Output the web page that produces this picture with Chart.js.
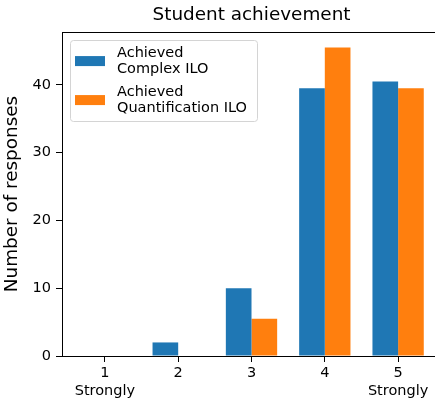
<!DOCTYPE html>
<html><head><meta charset="utf-8">
<script src="https://cdn.jsdelivr.net/npm/chart.js@4"></script>
<style>html,body{margin:0;padding:0;overflow:hidden;background:#fff}</style>
</head><body>
<canvas id="c" width="450" height="400"></canvas>
<script>
const categories = [1, 2, 3, 4, 5];
const xTickLabels = [['1', 'Strongly'], ['2'], ['3'], ['4'], ['5', 'Strongly']];
const complexILO = [0, 2, 10, 39.5, 40.5];
const quantILO = [0, 0, 5.5, 45.5, 39.5];
const yTicks = [0, 10, 20, 30, 40];
const seriesNames = ['Achieved\nComplex ILO', 'Achieved\nQuantification ILO'];
const titleText = 'Student achievement';
const yTitle = 'Number of responses';

const FONT = '"DejaVu Sans", sans-serif';
const barHalf = 0.35;
const dataMin = categories[0] - barHalf, dataMax = categories[categories.length - 1] + barHalf;
const xMargin = 0.05 * (dataMax - dataMin);
const allVals = complexILO.concat(quantILO);
const yMax = Math.max(...allVals) * 1.05;

const frameAndLegend = {
  id: 'frameAndLegend',
  afterDraw(chart) {
    const {ctx, chartArea: a} = chart;
    ctx.save();
    ctx.strokeStyle = '#000'; ctx.lineWidth = 1;
    ctx.beginPath(); ctx.moveTo(a.left, Math.round(a.top) + 0.5); ctx.lineTo(a.right, Math.round(a.top) + 0.5); ctx.stroke();
    const x0 = a.left + 8, y0 = a.top + 8, w = 187, h = 81;
    ctx.beginPath();
    ctx.roundRect(Math.round(x0) + 0.5, Math.round(y0) + 0.5, w, h, 3);
    ctx.fillStyle = 'rgba(255,255,255,0.8)'; ctx.fill();
    ctx.strokeStyle = '#d4d4d4'; ctx.stroke();
    ctx.font = '14.5px ' + FONT; ctx.textBaseline = 'alphabetic'; ctx.textAlign = 'left';
    chart.data.datasets.forEach((ds, i) => {
      const top = y0 + 6 + i * 39;
      ctx.fillStyle = ds.backgroundColor;
      ctx.fillRect(x0 + 5, top + 10, 30, 10);
      ctx.fillStyle = '#000';
      ds.label.split('\n').forEach((ln, j) => ctx.fillText(ln, x0 + 47, top + 10.6 + j * 16.3));
    });
    ctx.restore();
  }
};

new Chart(document.getElementById('c'), {
  type: 'bar',
  data: {
    datasets: [
      { label: seriesNames[0], data: categories.map((c, i) => ({x: c, y: complexILO[i]})), backgroundColor: '#1f77b4', borderWidth: 0 },
      { label: seriesNames[1], data: categories.map((c, i) => ({x: c, y: quantILO[i]})), backgroundColor: '#ff7f0e', borderWidth: 0 }
    ]
  },
  options: {
    responsive: false,
    devicePixelRatio: 1,
    animation: false,
    categoryPercentage: 0.7,
    barPercentage: 1,
    layout: { padding: { left: 0, right: 9, top: 0, bottom: 0 } },
    plugins: {
      legend: { display: false },
      tooltip: { enabled: false },
      title: {
        display: true, text: titleText, color: '#000', fullSize: false,
        font: { family: FONT, size: 18.4, weight: 'normal' },
        padding: { top: 4, bottom: 6 }
      }
    },
    scales: {
      x: {
        type: 'linear', offset: false,
        min: dataMin - xMargin, max: dataMax + xMargin,
        afterBuildTicks: s => { s.ticks = categories.map(v => ({value: v})); },
        afterFit: s => { s.height = 44; },
        grid: { display: true, offset: false, drawOnChartArea: false, tickLength: 6, color: '#000' },
        border: { display: true, color: '#000', width: 1 },
        ticks: {
          color: '#000', padding: 3, maxRotation: 0, autoSkip: false,
          font: { family: FONT, size: 14.5 },
          callback: (v) => { const i = categories.indexOf(v); return i >= 0 ? xTickLabels[i] : ''; }
        }
      },
      y: {
        min: 0, max: yMax,
        afterBuildTicks: s => { s.ticks = yTicks.map(v => ({value: v})); },
        afterFit: s => { s.width = 62; },
        grid: { display: true, drawOnChartArea: false, tickLength: 6, color: '#000' },
        border: { display: true, color: '#000', width: 1 },
        ticks: { color: '#000', padding: 5, font: { family: FONT, size: 14.5 } },
        title: { display: true, text: yTitle, color: '#000', font: { family: FONT, size: 18.4 }, padding: { top: 1, bottom: 0 } }
      }
    }
  },
  plugins: [frameAndLegend]
});
</script>
</body></html>
